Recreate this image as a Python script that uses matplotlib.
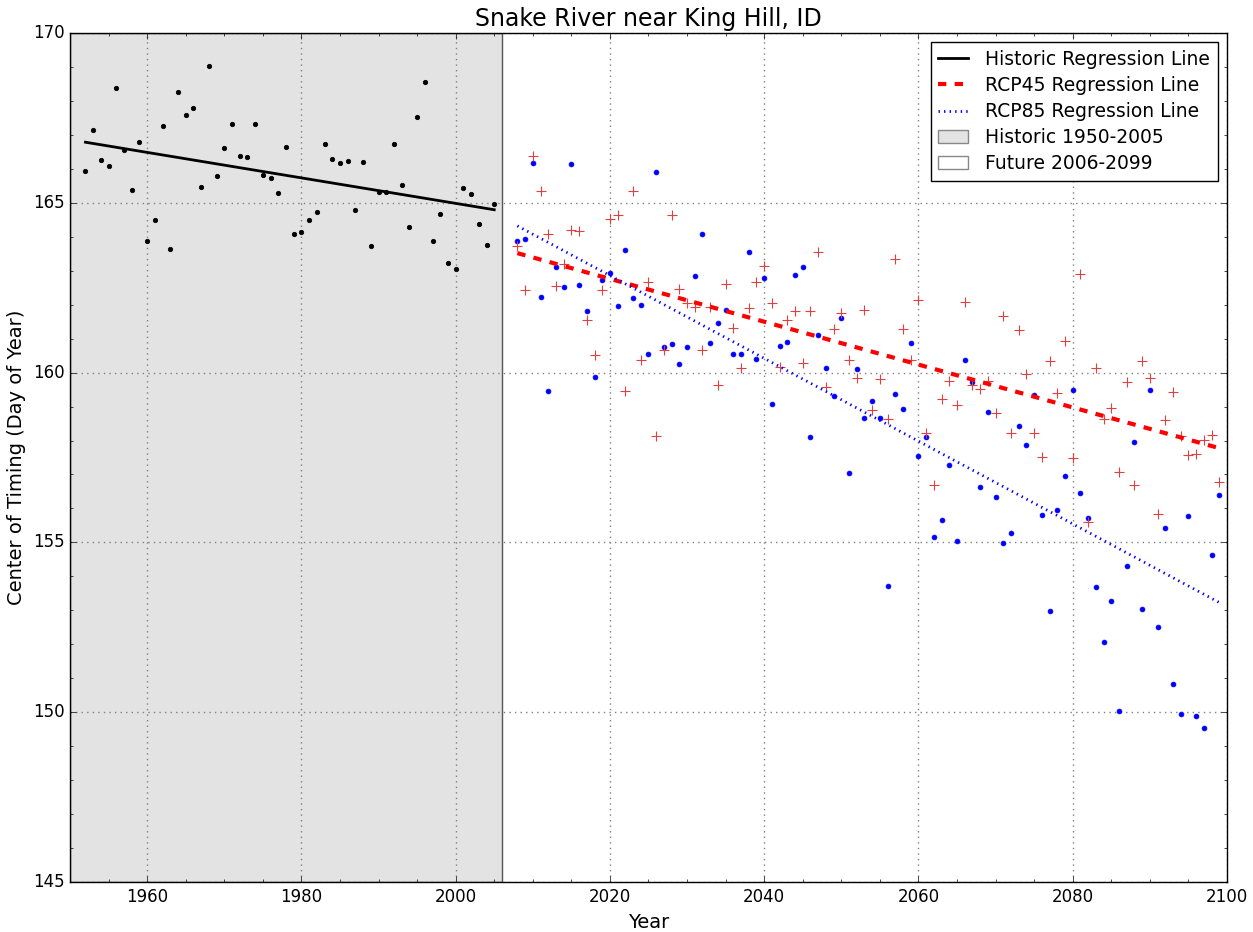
import numpy as np
import matplotlib
matplotlib.use("Agg")
import matplotlib.pyplot as plt
from matplotlib.patches import Patch
from matplotlib.lines import Line2D

plt.style.use("classic")

# === DATA ===
hist_years = list(range(1952, 2006))
hist_ct = [165.94, 167.14, 166.26, 166.08, 168.38, 166.55, 165.38, 166.79, 163.88, 164.49,
           167.26, 163.64, 168.26, 167.59, 167.79, 165.47, 169.03, 165.79, 166.61, 167.32,
           166.38, 166.35, 167.32, 165.82, 165.73, 165.29, 166.64, 164.08, 164.14, 164.49,
           164.73, 166.73, 166.29, 166.17, 166.23, 164.79, 166.20, 163.73, 165.32, 165.32,
           166.73, 165.52, 164.29, 167.53, 168.56, 163.88, 164.67, 163.23, 163.05, 165.44,
           165.26, 164.38, 163.76, 164.96]

fut_years = list(range(2008, 2100))
rcp45_ct = [163.72, 162.43, 166.38, 165.35, 164.08, 162.55, 163.20, 164.20, 164.17, 161.55,
            160.52, 162.43, 164.52, 164.64, 159.46, 165.35, 160.37, 162.67, 158.13, 160.67,
            164.64, 162.46, 162.05, 161.93, 160.67, 161.93, 159.63, 162.61, 161.31, 160.14,
            161.90, 162.67, 163.14, 162.05, 160.17, 161.55, 161.81, 160.28, 161.81, 163.55,
            159.58, 161.28, 161.76, 160.37, 159.84, 161.84, 158.90, 159.81, 158.63, 163.35,
            161.28, 160.37, 162.14, 158.22, 156.69, 159.22, 159.75, 159.04, 162.08, 159.63,
            159.52, 159.75, 158.81, 161.67, 158.22, 161.25, 159.96, 158.22, 157.51, 160.34,
            159.40, 160.93, 157.48, 162.90, 155.60, 160.14, 158.63, 158.96, 157.07, 159.72,
            156.69, 160.34, 159.84, 155.84, 158.60, 159.43, 158.13, 157.57, 157.60, 158.01,
            158.16, 156.78]
rcp85_ct = [163.88, 163.93, 166.17, 162.23, 159.46, 163.10, 162.52, 166.14, 162.58, 161.81,
            159.87, 162.73, 162.93, 161.96, 163.61, 162.20, 161.99, 160.55, 165.91, 160.75,
            160.84, 160.25, 160.75, 162.84, 164.08, 160.87, 161.46, 161.84, 160.55, 160.55,
            163.55, 160.40, 162.79, 159.07, 160.78, 160.90, 162.87, 163.11, 158.10, 161.11,
            160.14, 159.31, 161.61, 157.04, 160.11, 158.66, 159.16, 158.66, 153.72, 159.37,
            158.93, 160.87, 157.54, 158.10, 155.16, 155.66, 157.28, 155.04, 160.37, 159.72,
            156.63, 158.84, 156.34, 154.98, 155.28, 158.43, 157.87, 159.34, 155.81, 152.98,
            155.95, 156.95, 159.49, 156.45, 155.72, 153.69, 152.07, 153.27, 150.04, 154.31,
            157.96, 153.04, 159.49, 152.51, 155.42, 150.83, 149.95, 155.78, 149.89, 149.53,
            154.63, 156.40]


def fit_line(x, y):
    x = np.asarray(x, dtype=float)
    m, b = np.polyfit(x, y, 1)
    return x, m * x + b


# === PLOT ===
fig = plt.figure(figsize=(12.53, 9.32), dpi=100)
fig.patch.set_facecolor("white")
ax = fig.add_axes([0.0559, 0.0536, 0.9233, 0.911])

ax.axvspan(1950, 2006, facecolor="#e3e3e3", edgecolor="#555555", linewidth=1, zorder=0)

ax.plot(hist_years, hist_ct, "k.", markersize=6.5, zorder=3)
ax.plot(fut_years, rcp85_ct, "b.", markersize=7, markeredgecolor="b", zorder=3)
ax.plot(fut_years, rcp45_ct, "+", color="#e04040", markersize=7, markeredgewidth=0.8, zorder=3)

hx, hy = fit_line(hist_years, hist_ct)
ax.plot(hx, hy, "k-", linewidth=2, zorder=4)
fx, f45 = fit_line(fut_years, rcp45_ct)
ax.plot(fx, f45, "r--", linewidth=3, zorder=4)
fx, f85 = fit_line(fut_years, rcp85_ct)
ax.plot(fx, f85, "b:", linewidth=2, zorder=4)

ax.set_xlim(1950, 2100)
ax.set_ylim(145, 170)
ax.set_xticks(range(1960, 2101, 20))
ax.set_yticks(range(145, 171, 5))
ax.minorticks_on()
ax.grid(True, which="major", color="0.5", linestyle=":", linewidth=1)
ax.set_axisbelow(True)
ax.tick_params(labelsize=12)

ax.set_title("Snake River near King Hill, ID", fontsize=17)
ax.set_xlabel("Year", fontsize=14)
ax.set_ylabel("Center of Timing (Day of Year)", fontsize=14)

handles = [
    Line2D([], [], color="k", linestyle="-", linewidth=2),
    Line2D([], [], color="r", linestyle="--", linewidth=3),
    Line2D([], [], color="b", linestyle=":", linewidth=2),
    Patch(facecolor="#e3e3e3", edgecolor="#888888"),
    Patch(facecolor="white", edgecolor="#888888"),
]
labels = ["Historic Regression Line", "RCP45 Regression Line", "RCP85 Regression Line",
          "Historic 1950-2005", "Future 2006-2099"]
ax.legend(handles, labels, loc="upper right", fontsize=13.5, numpoints=1,
          handlelength=1.6, handletextpad=0.9, borderpad=0.4, labelspacing=0.38,
          borderaxespad=0.5)

fig.savefig("out.png", dpi=100, facecolor="white")
